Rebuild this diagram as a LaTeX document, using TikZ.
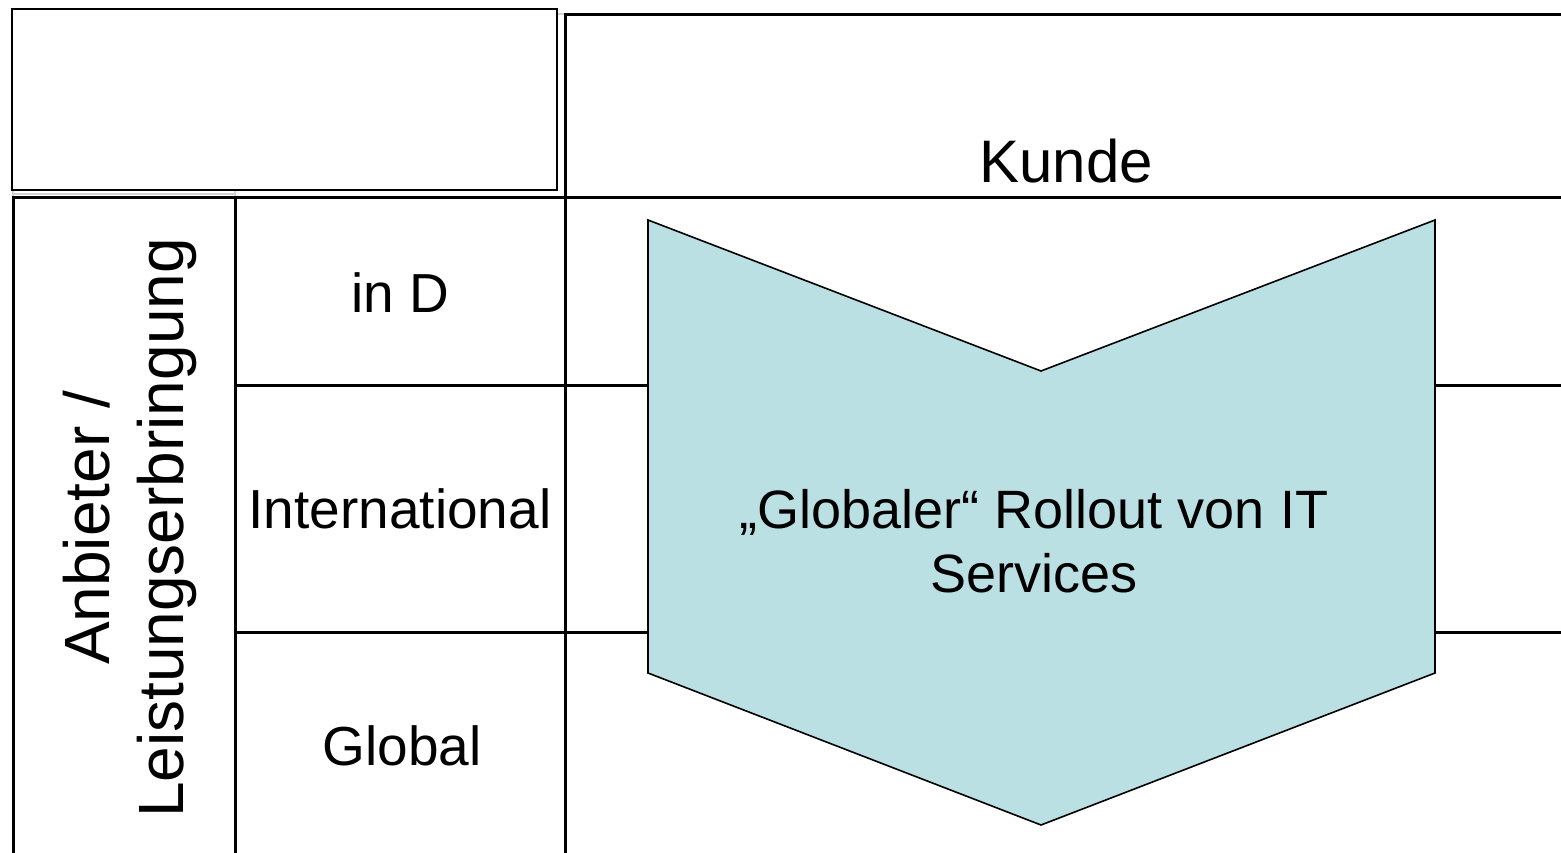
\documentclass[tikz,border=0pt]{standalone}
\usepackage{fontspec}
\setmainfont{Liberation Sans}
\usetikzlibrary{positioning}
\definecolor{rolloutfill}{HTML}{BBE0E3}
\tikzset{gridline/.style={line width=3pt},
	shadowline/.style={gray!35, line width=2pt},
	celltext/.style={font=\fontsize{55}{64}\selectfont, inner sep=0pt, anchor=base},
	sidetext/.style={font=\fontsize{64}{74}\selectfont, inner sep=0pt, rotate=90, align=center}}

\begin{document}
\begin{tikzpicture}[x=1pt, y=-1pt]
	\useasboundingbox (0,0) rectangle (1561,853);
	
	% faint grid underneath
	\draw[shadowline] (13,190) -- (13,198);
	\draw[shadowline] (235,190) -- (235,198);
	\draw[shadowline] (12,194) -- (235,194);
	\draw[shadowline] (557,14) -- (565,14);
	
	% empty corner cell
	\draw[line width=2pt] (12,9) rectangle (557,190);
	
	% table lines
	\draw[gridline] (565,853) -- (565,15) -- (1561,15);
	\draw[gridline] (12,198) -- (1561,198);
	\draw[gridline] (13,198) -- (13,853);
	\draw[gridline] (235,198) -- (235,853);
	\draw[gridline] (235,385) -- (1561,385);
	\draw[gridline] (235,632) -- (1561,632);
	
	% rollout chevron
	\draw[fill=rolloutfill, line width=1.6pt, line join=miter]
		(648,220) -- (1041,371) -- (1435,220) -- (1435,673) -- (1041,825) -- (648,673) -- cycle;
	
	\node[celltext, font=\fontsize{60}{64}\selectfont] (kunde) at (1066,183) {Kunde};
	\node[celltext] (ind) at (400,312) {in D};
	\node[celltext] (intl) at (400,528) {International};
	\node[celltext] (glob) at (402,765) {Global};
	\node[sidetext] (anbieter) at (130,528) {Anbieter /\\Leistungserbringung};
	\node[font=\fontsize{54}{64}\selectfont, inner sep=0pt, align=center] (rollout) at (1034,541)
		{„Globaler“ Rollout von IT\\Services};
\end{tikzpicture}
\end{document}
